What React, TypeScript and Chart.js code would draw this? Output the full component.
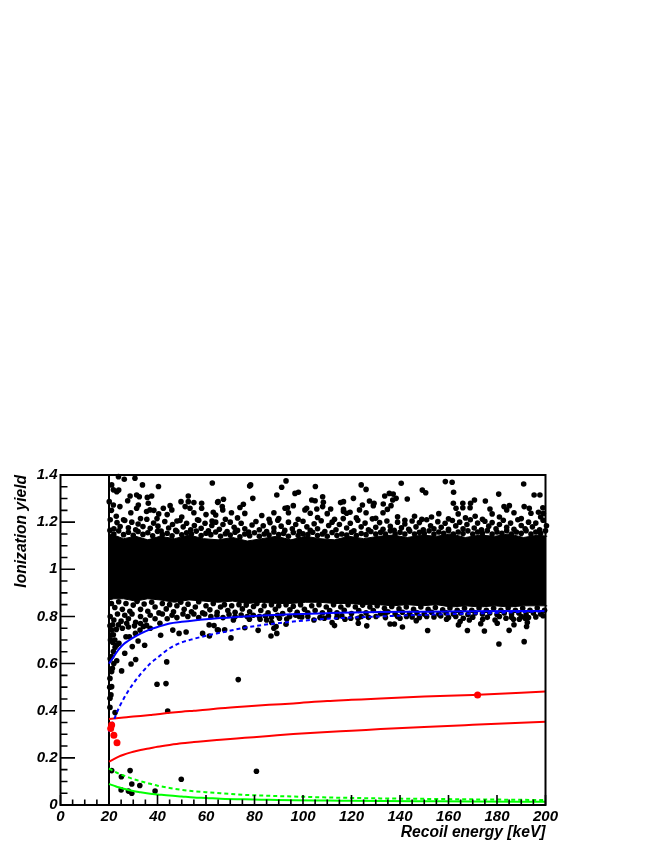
import React, { useEffect, useRef } from "react";
import { Chart, registerables } from "chart.js";

Chart.register(...registerables);

type P = [number, number];

const xTicksMajor = [0, 20, 40, 60, 80, 100, 120, 140, 160, 180, 200];
const yTickLabels = ["0", "0.2", "0.4", "0.6", "0.8", "1", "1.2", "1.4"];

const curveX = [20, 22, 24, 26, 28, 30, 33, 37, 40, 45, 50, 55, 60, 66, 76, 86, 96, 110, 120, 132, 150, 170, 200];
const blueSolid = [0.6, 0.63, 0.66, 0.682, 0.697, 0.71, 0.727, 0.745, 0.755, 0.77, 0.777, 0.783, 0.788, 0.793, 0.8, 0.805, 0.809, 0.814, 0.817, 0.819, 0.82, 0.822, 0.823];
const blueDashed = [0.31, 0.36, 0.41, 0.45, 0.485, 0.515, 0.555, 0.6, 0.625, 0.665, 0.69, 0.705, 0.718, 0.731, 0.752, 0.767, 0.778, 0.79, 0.795, 0.8, 0.807, 0.812, 0.822];
const redUpper = [0.365, 0.367, 0.369, 0.371, 0.373, 0.375, 0.378, 0.382, 0.385, 0.391, 0.396, 0.4, 0.404, 0.41, 0.418, 0.425, 0.431, 0.441, 0.446, 0.452, 0.46, 0.467, 0.481];
const redLower = [0.184, 0.195, 0.205, 0.213, 0.22, 0.226, 0.233, 0.241, 0.247, 0.255, 0.262, 0.267, 0.272, 0.277, 0.285, 0.293, 0.301, 0.31, 0.315, 0.322, 0.331, 0.34, 0.353];
const greenDashed = [0.155, 0.143, 0.133, 0.125, 0.117, 0.11, 0.101, 0.09, 0.082, 0.072, 0.064, 0.058, 0.054, 0.05, 0.043, 0.039, 0.036, 0.032, 0.03, 0.028, 0.026, 0.024, 0.021];
const greenSolid = [0.089, 0.082, 0.075, 0.069, 0.064, 0.059, 0.054, 0.048, 0.045, 0.04, 0.036, 0.032, 0.03, 0.027, 0.024, 0.022, 0.02, 0.019, 0.018, 0.017, 0.016, 0.015, 0.014];

const cutLine: P[] = [[20, 0], [20, 1.4]];

const bandX = [20, 22, 26, 31, 36, 41, 47, 53, 59, 65, 71, 77, 83, 89, 95, 101, 107, 113, 119, 125, 131, 137, 143, 149, 155, 161, 167, 173, 179, 185, 191, 197, 200.7];
const bandTop = [1.15, 1.145, 1.13, 1.14, 1.125, 1.14, 1.13, 1.145, 1.13, 1.125, 1.135, 1.12, 1.13, 1.14, 1.125, 1.14, 1.13, 1.125, 1.14, 1.13, 1.14, 1.145, 1.135, 1.145, 1.14, 1.15, 1.135, 1.145, 1.14, 1.15, 1.135, 1.145, 1.14];
const bandBottom = [0.87, 0.875, 0.875, 0.865, 0.875, 0.87, 0.86, 0.87, 0.865, 0.86, 0.865, 0.855, 0.86, 0.855, 0.855, 0.86, 0.86, 0.855, 0.855, 0.85, 0.85, 0.845, 0.85, 0.845, 0.85, 0.84, 0.845, 0.84, 0.845, 0.84, 0.845, 0.845, 0.845];

const topScatter: P[] = [
  [62.6, 1.366], [78.4, 1.358], [78, 1.353], [93, 1.375], [91.2, 1.348], [105.1, 1.351], [124, 1.358], [126, 1.339], [79.3, 1.301], [89.2, 1.315],
  [96.7, 1.322], [98.1, 1.327], [108.1, 1.308], [120.8, 1.301], [65, 1.287], [67.2, 1.297], [75.4, 1.276], [74, 1.262], [66.7, 1.266], [66.9, 1.252],
  [103.6, 1.294], [105, 1.291], [127.4, 1.29], [129.3, 1.28], [129, 1.27], [124.5, 1.273], [108.4, 1.284], [108.1, 1.266], [96, 1.27], [92.6, 1.259],
  [93.6, 1.261], [101.5, 1.259], [100.8, 1.252], [105.7, 1.256], [111.4, 1.256], [116.7, 1.287], [115.5, 1.283], [116.7, 1.254], [116.7, 1.245], [119.4, 1.242],
  [123.3, 1.252], [23.9, 1.393], [26.3, 1.382], [30.7, 1.386], [33.8, 1.358], [40.4, 1.351], [21.1, 1.358], [21.8, 1.337], [23.2, 1.329], [24, 1.336],
  [28.7, 1.311], [27.7, 1.291], [31.4, 1.315], [32.5, 1.308], [35.8, 1.305], [37.6, 1.311], [36.2, 1.28], [52.7, 1.311], [49.7, 1.287], [52.7, 1.287],
  [55, 1.283], [58.2, 1.28], [64.8, 1.284], [31.4, 1.259], [32.1, 1.273], [42.4, 1.259], [45.2, 1.27], [45.9, 1.252], [51.4, 1.266], [53.4, 1.259],
  [58.2, 1.259], [63, 1.242], [36.9, 1.252], [35.5, 1.245], [38.5, 1.25], [40.5, 1.235], [39.8, 1.215], [20.1, 1.287], [21.8, 1.273], [24.5, 1.266],
  [140.5, 1.365], [158.7, 1.372], [161.5, 1.369], [191, 1.362], [149.2, 1.336], [150.6, 1.325], [162.1, 1.327], [180.7, 1.319], [195.3, 1.315], [197.7, 1.315],
  [133.7, 1.311], [135.6, 1.322], [137.2, 1.319], [138.4, 1.301], [137, 1.294], [143, 1.298], [133.1, 1.277], [136.3, 1.27], [134.8, 1.254], [170.7, 1.294],
  [175.2, 1.29], [162, 1.28], [165.9, 1.28], [169.1, 1.28], [165.9, 1.261], [168.9, 1.261], [163.1, 1.259], [182.9, 1.266], [185.1, 1.27], [184, 1.252],
  [191.2, 1.266], [193.3, 1.259], [198.9, 1.261], [177.1, 1.256], [197.1, 1.242], [199.1, 1.237],
];

const topRowC: P[] = [
  [21, 1.25], [23, 1.225], [26, 1.21], [29, 1.24], [33, 1.215], [44, 1.232], [48, 1.205], [50, 1.222], [55, 1.24], [57, 1.208],
  [60, 1.232], [62.5, 1.205], [64, 1.23], [68, 1.212], [70.5, 1.24], [73, 1.218], [76, 1.237], [83, 1.228], [86, 1.212], [88, 1.24],
  [90, 1.215], [94, 1.24], [98, 1.212], [103, 1.238], [106, 1.22], [110, 1.236], [113, 1.212], [118, 1.238], [122, 1.218], [126, 1.24],
  [130, 1.216], [133, 1.24], [139, 1.223], [142, 1.208], [146, 1.225], [149, 1.212], [153, 1.222], [156, 1.236], [160, 1.214], [164, 1.235],
  [167, 1.218], [171, 1.225], [174, 1.212], [178, 1.235], [181, 1.222], [187, 1.24], [190, 1.215], [194, 1.238], [198, 1.222],
];

const topRowB: P[] = [
  [20.5, 1.21], [22, 1.172], [23.3, 1.198], [24.6, 1.181], [26.5, 1.207], [28, 1.176], [29.4, 1.2], [31, 1.168], [32, 1.192], [34, 1.181],
  [35.6, 1.212], [37, 1.174], [38.4, 1.196], [40.2, 1.183], [41.5, 1.162], [43, 1.203], [44.6, 1.175], [46.2, 1.19], [47.5, 1.165], [49.3, 1.207],
  [50.6, 1.18], [52, 1.195], [53.7, 1.168], [55.2, 1.186], [56.5, 1.21], [58, 1.174], [59.6, 1.195], [61, 1.163], [62.4, 1.186], [64, 1.2],
  [65.5, 1.17], [67, 1.19], [68.7, 1.16], [70, 1.2], [71.6, 1.178], [73, 1.165], [74.5, 1.195], [76, 1.172], [77.6, 1.158], [79, 1.188],
  [80.6, 1.203], [82, 1.168], [83.6, 1.185], [85, 1.16], [86.4, 1.198], [88, 1.175], [89.6, 1.208], [91, 1.183], [92.5, 1.165], [94, 1.2],
  [95.6, 1.172], [97, 1.19], [98.5, 1.16], [100, 1.204], [101.6, 1.18], [103, 1.165], [104.6, 1.193], [106, 1.172], [107.5, 1.206], [109, 1.16],
  [110.6, 1.186], [112, 1.2], [113.6, 1.168], [115, 1.19], [116.6, 1.215], [118, 1.175], [119.5, 1.195], [121, 1.163], [122.6, 1.208], [124, 1.18],
  [125.6, 1.196], [127, 1.168], [128.6, 1.214], [130, 1.178], [131.6, 1.198], [133, 1.17], [134.6, 1.205], [136, 1.182], [137.6, 1.165], [139, 1.2],
  [140.6, 1.176], [142, 1.192], [143.6, 1.17], [145, 1.205], [146.6, 1.18], [148, 1.198], [149.6, 1.168], [151, 1.21], [152.6, 1.185], [154, 1.172],
  [155.6, 1.202], [157, 1.178], [158.6, 1.195], [160, 1.17], [161.6, 1.207], [163, 1.184], [164.6, 1.2], [166, 1.172], [167.6, 1.19], [169, 1.21],
  [170.6, 1.175], [172, 1.196], [173.6, 1.168], [175, 1.204], [176.6, 1.183], [178, 1.198], [179.6, 1.172], [181, 1.19], [182.6, 1.208], [184, 1.178],
  [185.6, 1.196], [187, 1.17], [188.6, 1.21], [190, 1.186], [191.6, 1.172], [193, 1.2], [194.6, 1.18], [196, 1.196], [197.6, 1.168], [199, 1.208], [200.4, 1.185],
];

const topRowA: P[] = [
  [20.4, 1.165], [22, 1.15], [24, 1.163], [26, 1.147], [28, 1.157], [30, 1.144], [32, 1.16], [34, 1.148], [36, 1.155], [38, 1.142],
  [40, 1.161], [42, 1.147], [44, 1.153], [46, 1.142], [48, 1.16], [50, 1.146], [52, 1.155], [54, 1.15], [56, 1.162], [58, 1.143],
  [60, 1.153], [62, 1.147], [64, 1.158], [66, 1.14], [68, 1.151], [70, 1.145], [72, 1.157], [74, 1.138], [76, 1.15], [78, 1.142],
  [80, 1.155], [82, 1.14], [84, 1.15], [86, 1.145], [88, 1.158], [90, 1.147], [92, 1.152], [94, 1.14], [96, 1.156], [98, 1.143],
  [100, 1.151], [102, 1.147], [104, 1.157], [106, 1.143], [108, 1.15], [110, 1.14], [112, 1.156], [114, 1.143], [116, 1.15], [118, 1.145],
  [120, 1.157], [122, 1.143], [124, 1.152], [126, 1.147], [128, 1.16], [130, 1.15], [132, 1.157], [134, 1.15], [136, 1.163], [138, 1.15],
  [140, 1.157], [142, 1.15], [144, 1.162], [146, 1.15], [148, 1.157], [150, 1.152], [152, 1.163], [154, 1.15], [156, 1.158], [158, 1.153],
  [160, 1.164], [162, 1.15], [164, 1.158], [166, 1.152], [168, 1.163], [170, 1.15], [172, 1.158], [174, 1.153], [176, 1.164], [178, 1.15],
  [180, 1.158], [182, 1.153], [184, 1.164], [186, 1.15], [188, 1.158], [190, 1.153], [192, 1.164], [194, 1.15], [196, 1.158], [198, 1.153],
  [200, 1.163], [200.6, 1.145],
];

const lowerScatter: P[] = [
  [22.5, 0.392], [44.2, 0.399], [39.8, 0.512], [25.2, 0.569], [43.8, 0.607], [29.1, 0.598], [31, 0.617], [23.2, 0.612], [21.4, 0.58], [21.1, 0.566],
  [20.4, 0.537], [21.1, 0.502], [20.3, 0.5], [20.8, 0.467], [20.4, 0.453], [20.4, 0.414], [26.5, 0.644], [21.1, 0.63], [21.8, 0.651], [23.2, 0.679],
  [24.1, 0.686], [22.5, 0.669], [29.6, 0.672], [32, 0.696], [34.7, 0.678], [27, 0.714], [28.4, 0.714], [30.9, 0.728], [32.8, 0.742], [41.3, 0.72],
  [46.3, 0.742], [48.9, 0.728], [51.8, 0.734], [58.6, 0.728], [61.4, 0.717], [61.3, 0.764], [63.3, 0.761], [65.1, 0.742], [34.2, 0.757], [35.5, 0.762],
  [41, 0.771], [21.1, 0.742], [21.8, 0.722], [23.9, 0.764], [27.3, 0.771], [37, 0.75], [20.6, 0.7], [21.5, 0.69], [20.5, 0.62], [22, 0.6],
  [73.3, 0.532], [70.3, 0.709], [64.7, 0.743], [67.7, 0.743], [81.5, 0.741], [76, 0.752], [86.8, 0.717], [89.2, 0.728], [88, 0.75], [88.9, 0.757],
  [93, 0.767], [93.3, 0.789], [113, 0.761], [112, 0.774], [104.5, 0.785], [122.8, 0.771], [126.3, 0.76], [122.7, 0.792], [119.7, 0.792], [117.3, 0.788],
  [130.1, 0.8], [98.5, 0.8], [107, 0.795], [108.8, 0.792], [110.5, 0.802], [71.3, 0.785], [77.9, 0.788], [82.3, 0.788], [85, 0.785], [87.1, 0.774],
  [90.3, 0.792], [180.8, 0.683], [191.2, 0.693], [151.4, 0.74], [167.8, 0.74], [174.8, 0.738], [185, 0.741], [141, 0.755], [135.9, 0.768], [137.7, 0.768],
  [146.7, 0.782], [164.1, 0.764], [164.8, 0.778], [173.3, 0.769], [180.1, 0.771], [187, 0.765], [192.2, 0.757], [192.5, 0.774], [159.2, 0.788], [168.6, 0.785],
  [166.1, 0.792], [174.1, 0.788], [179.2, 0.785], [183.7, 0.792], [189.2, 0.788], [133.8, 0.809], [140, 0.792], [142.7, 0.8], [151, 0.8], [156.8, 0.802],
  [186.8, 0.788], [191.6, 0.792], [21.1, 0.146], [28.7, 0.146], [25.1, 0.12], [49.8, 0.109], [29.4, 0.089], [32.7, 0.083], [25, 0.064], [28, 0.059],
  [29.4, 0.05], [39, 0.059], [80.8, 0.143], [43.5, 0.515],
];

const lowerRowA: P[] = [
  [21, 0.855], [22.4, 0.838], [24, 0.862], [25.5, 0.83], [27, 0.855], [28.6, 0.822], [30, 0.848], [31.6, 0.864], [33, 0.83], [34.5, 0.853],
  [36, 0.822], [37.6, 0.86], [39, 0.84], [40.6, 0.815], [42, 0.855], [43.6, 0.832], [45, 0.85], [46.6, 0.82], [48, 0.845], [49.6, 0.86],
  [51, 0.83], [52.6, 0.852], [54, 0.82], [55.6, 0.84], [57, 0.862], [58.6, 0.815], [60, 0.845], [61.6, 0.828], [63, 0.855], [64.6, 0.818],
  [66, 0.84], [67.6, 0.85], [69, 0.825], [70.6, 0.845], [72, 0.818], [73.6, 0.85], [75, 0.832], [76.6, 0.848], [78, 0.82], [79.6, 0.842],
  [81, 0.855], [82.6, 0.825], [84, 0.845], [85.6, 0.815], [87, 0.85], [88.6, 0.83], [90, 0.845], [91.6, 0.812], [93, 0.85], [94.6, 0.828],
  [96, 0.843], [97.6, 0.818], [99, 0.85], [100.6, 0.83], [102, 0.815], [103.6, 0.845], [105, 0.825], [106.6, 0.85], [108, 0.815], [109.6, 0.84],
  [111, 0.825], [112.6, 0.85], [114, 0.815], [115.6, 0.84], [117, 0.826], [118.6, 0.85], [120, 0.812], [121.6, 0.84], [123, 0.825], [124.6, 0.848],
  [126, 0.815], [127.6, 0.84], [129, 0.825], [130.6, 0.845], [132, 0.812], [133.6, 0.835], [135, 0.82], [136.6, 0.842], [138, 0.81], [139.6, 0.832],
  [141, 0.818], [142.6, 0.84], [144, 0.812], [145.6, 0.83], [147, 0.815], [148.6, 0.84], [150, 0.81], [151.6, 0.83], [153, 0.818], [154.6, 0.838],
  [156, 0.81], [157.6, 0.828], [159, 0.815], [160.6, 0.836], [162, 0.81], [163.6, 0.826], [165, 0.815], [166.6, 0.835], [168, 0.808], [169.6, 0.826],
  [171, 0.815], [172.6, 0.836], [174, 0.81], [175.6, 0.826], [177, 0.815], [178.6, 0.835], [180, 0.808], [181.6, 0.826], [183, 0.815], [184.6, 0.836],
  [186, 0.81], [187.6, 0.826], [189, 0.815], [190.6, 0.835], [192, 0.808], [193.6, 0.826], [195, 0.815], [196.6, 0.836], [198, 0.81], [199.6, 0.826],
];

const lowerRowB: P[] = [
  [20.5, 0.8], [22, 0.785], [23.5, 0.81], [25, 0.78], [26.5, 0.805], [28, 0.79], [29.5, 0.81], [31, 0.775], [33, 0.8], [35, 0.785],
  [37, 0.805], [39, 0.79], [42, 0.81], [44, 0.79], [46, 0.805], [48, 0.795], [50.5, 0.81], [52.5, 0.8], [55, 0.81], [57, 0.795],
  [59.5, 0.81], [62, 0.8], [64.5, 0.805], [67, 0.795], [69.5, 0.808], [72, 0.8], [74.5, 0.806], [77, 0.8], [79.5, 0.805], [82, 0.8],
  [84.5, 0.802], [87, 0.797], [89.5, 0.805], [94.5, 0.8], [97, 0.805], [99.5, 0.798], [102, 0.8], [114, 0.797], [116, 0.803], [124, 0.8],
  [127, 0.796], [134, 0.795], [139, 0.8], [145, 0.798], [148, 0.795], [154, 0.798], [160, 0.795], [163, 0.8], [170, 0.797], [176, 0.796],
  [181, 0.8], [186, 0.797], [190, 0.8], [193, 0.795], [196, 0.798], [199, 0.803], [20.4, 0.76], [21.5, 0.765], [23, 0.745], [25.5, 0.75],
  [20.8, 0.72], [22.4, 0.7], [28, 0.755], [30.5, 0.76], [33, 0.77],
];

const redDots: P[] = [[21.1, 0.339], [20.7, 0.325], [22, 0.296], [23.3, 0.264], [172, 0.467]];

const pts = (a: P[]) => a.map(([x, y]) => ({ x, y }));
const zipXY = (xs: number[], ys: number[]) => xs.map((x, i) => ({ x, y: ys[i] }));

const FONT = "'Liberation Sans', Arial, sans-serif";

const axisFrame = {
  id: "axisFrame",
  afterDatasetsDraw(chart: any) {
    const { ctx, chartArea: a, scales } = chart;
    ctx.save();
    ctx.strokeStyle = "#000";
    ctx.lineWidth = 2;
    ctx.strokeRect(a.left, a.top, a.right - a.left, a.bottom - a.top);
    ctx.lineWidth = 1.6;
    ctx.beginPath();
    scales.x.ticks.forEach((t: any) => {
      const px = scales.x.getPixelForValue(t.value);
      const len = xTicksMajor.includes(t.value) ? 10 : 5.5;
      ctx.moveTo(px, a.bottom);
      ctx.lineTo(px, a.bottom - len);
    });
    scales.y.ticks.forEach((t: any) => {
      const py = scales.y.getPixelForValue(t.value);
      const isMajor = Math.abs(t.value * 5 - Math.round(t.value * 5)) < 1e-6;
      ctx.moveTo(a.left, py);
      ctx.lineTo(a.left + (isMajor ? 14.5 : 7), py);
    });
    ctx.stroke();
    ctx.restore();
  },
};

const curve = (label: string, ys: number[], color: string, dash: number[] = []) => ({
  type: "line",
  label,
  data: zipXY(curveX, ys),
  borderColor: color,
  borderWidth: 2,
  borderDash: dash,
  pointRadius: 0,
  cubicInterpolationMode: "monotone",
  fill: false,
  order: 1,
});

const dots = (label: string, a: P[]) => ({
  type: "scatter",
  label,
  data: pts(a),
  showLine: false,
  pointRadius: 2.8,
  pointBorderWidth: 0,
  pointBackgroundColor: "#000",
  clip: false,
  order: 5,
});

export default function App() {
  const ref = useRef<HTMLCanvasElement>(null);
  useEffect(() => {
    const chart = new Chart(ref.current as HTMLCanvasElement, {
      type: "scatter",
      plugins: [axisFrame],
      data: {
        datasets: [
          {
            type: "scatter",
            label: "red events",
            data: pts(redDots),
            showLine: false,
            pointRadius: 3.5,
            pointBorderWidth: 0,
            pointBackgroundColor: "#ff0000",
            clip: false,
            order: 0,
          },
          curve("electron band", blueSolid, "#0000ff"),
          curve("electron band low", blueDashed, "#0000ff", [4, 3]),
          curve("nuclear upper", redUpper, "#ff0000"),
          curve("nuclear lower", redLower, "#ff0000"),
          curve("threshold a", greenDashed, "#00ff00", [4, 3]),
          curve("threshold b", greenSolid, "#00ff00"),
          {
            type: "line",
            label: "cut",
            data: pts(cutLine),
            borderColor: "#000",
            borderWidth: 2,
            pointRadius: 0,
            order: 2,
          },
          dots("top scatter", topScatter),
          dots("top row c", topRowC),
          dots("top row b", topRowB),
          dots("top row a", topRowA),
          dots("lower scatter", lowerScatter),
          dots("lower row a", lowerRowA),
          dots("lower row b", lowerRowB),
          {
            type: "line",
            label: "band top",
            data: zipXY(bandX, bandTop),
            borderColor: "#000",
            backgroundColor: "#000",
            borderWidth: 1,
            pointRadius: 0,
            fill: "+1",
            clip: false,
            order: 6,
          },
          {
            type: "line",
            label: "band bottom",
            data: zipXY(bandX, bandBottom),
            borderColor: "#000",
            borderWidth: 1,
            pointRadius: 0,
            fill: false,
            clip: false,
            order: 7,
          },
        ] as any,
      },
      options: {
        animation: false,
        responsive: false,
        layout: { padding: { left: 0, top: 475, right: 108.5, bottom: 0 } },
        plugins: { legend: { display: false }, tooltip: { enabled: false } },
        scales: {
          x: {
            type: "linear",
            min: 0,
            max: 200,
            grid: { display: false, drawTicks: false },
            border: { display: false },
            afterFit(s: any) {
              s.height = 41;
            },
            ticks: {
              stepSize: 5,
              autoSkip: false,
              maxRotation: 0,
              padding: 3,
              color: "#000",
              font: { family: FONT, size: 15, weight: "bold", style: "italic" },
              callback: (v: any) => (xTicksMajor.includes(v) ? String(v) : ""),
            },
            title: {
              display: true,
              text: "Recoil energy [keV]",
              align: "end",
              color: "#000",
              padding: { top: 0, bottom: 4 },
              font: { family: FONT, size: 15.6, weight: "bold", style: "italic" },
            },
          },
          y: {
            type: "linear",
            min: 0,
            max: 1.4,
            grid: { display: false, drawTicks: false },
            border: { display: false },
            afterFit(s: any) {
              s.width = 60.5;
            },
            ticks: {
              stepSize: 0.05,
              autoSkip: false,
              padding: 3,
              color: "#000",
              font: { family: FONT, size: 15, weight: "bold", style: "italic" },
              callback: (v: any) => {
                const k = Math.round(v * 5);
                return Math.abs(v * 5 - k) < 1e-6 ? yTickLabels[k] : "";
              },
            },
            title: {
              display: true,
              text: "Ionization yield",
              align: "end",
              color: "#000",
              padding: { top: 12, bottom: 0 },
              font: { family: FONT, size: 15.6, weight: "bold", style: "italic" },
            },
          },
        },
      } as any,
    });
    return () => chart.destroy();
  }, []);
  return (
    <canvas
      ref={ref}
      width={654}
      height={846}
      style={{ position: "absolute", left: 0, top: 0, width: 654, height: 846 }}
    />
  );
}
